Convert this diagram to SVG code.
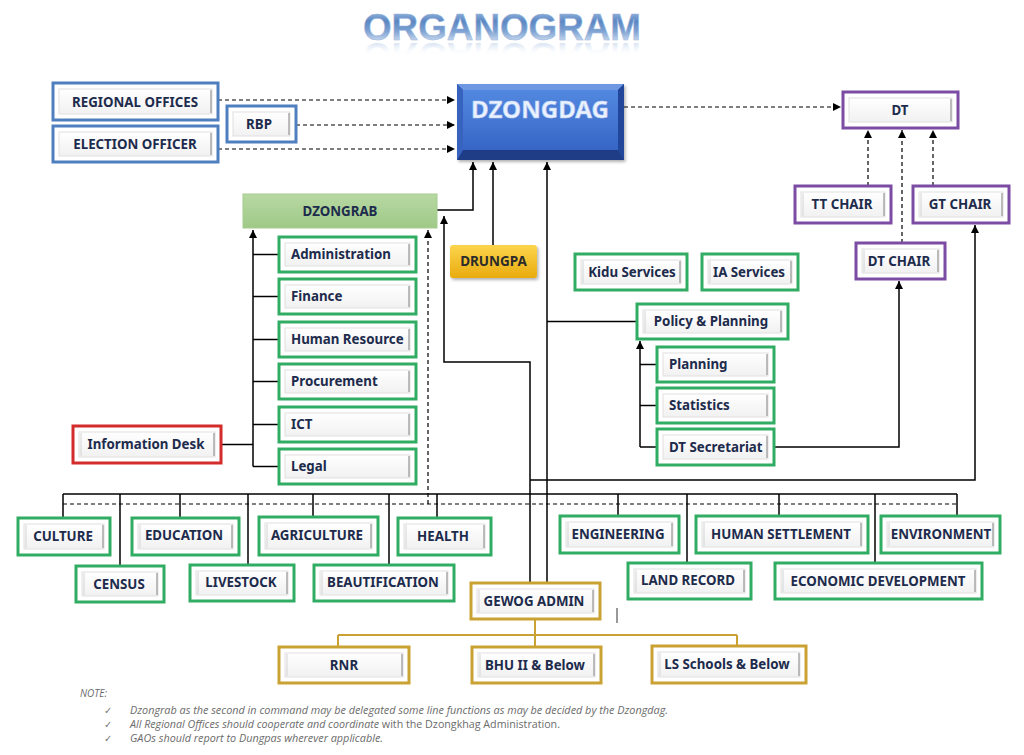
<svg xmlns="http://www.w3.org/2000/svg" width="1024" height="755" viewBox="0 0 1024 755">
<defs>
<linearGradient id="tg" x1="0" y1="13" x2="0" y2="41" gradientUnits="userSpaceOnUse"><stop offset="0" stop-color="#8cadd8"/><stop offset="0.3" stop-color="#5b87c3"/><stop offset="0.65" stop-color="#7ea2d2"/><stop offset="1" stop-color="#c8d9ee"/></linearGradient>
<linearGradient id="rg" x1="0" y1="40" x2="0" y2="27" gradientUnits="userSpaceOnUse"><stop offset="0" stop-color="#9fbbe0" stop-opacity="0.4"/><stop offset="1" stop-color="#ffffff" stop-opacity="0"/></linearGradient>
<linearGradient id="ig" x1="0" y1="0" x2="0" y2="1"><stop offset="0" stop-color="#ffffff"/><stop offset="1" stop-color="#f1f1f1"/></linearGradient>
<linearGradient id="dz" x1="0" y1="0" x2="0" y2="1"><stop offset="0" stop-color="#5288e0"/><stop offset="1" stop-color="#3766c6"/></linearGradient>
<linearGradient id="gr" x1="0" y1="0" x2="0" y2="1"><stop offset="0" stop-color="#b7d8a2"/><stop offset="1" stop-color="#9fc988"/></linearGradient>
<linearGradient id="yl" x1="0" y1="0" x2="0" y2="1"><stop offset="0" stop-color="#fcd54c"/><stop offset="1" stop-color="#e9ab0e"/></linearGradient>
<marker id="ah" markerUnits="userSpaceOnUse" markerWidth="9" markerHeight="8" refX="8" refY="4" orient="auto"><path d="M0,0 L8,4 L0,8 z" fill="#000"/></marker>
<filter id="sh" x="-10%" y="-10%" width="130%" height="140%"><feDropShadow dx="1.5" dy="2" stdDeviation="1.5" flood-color="#000" flood-opacity="0.3"/></filter>
</defs>
<style>
.ob{fill:#fff;stroke-width:3}
.g{stroke:#30ad62}.b{stroke:#4f7fbf}.p{stroke:#7c4ca4}.r{stroke:#d42b2b}.y{stroke:#c9a233}
.ib{fill:url(#ig);stroke:#e0e0e0;stroke-width:1}
.rl{stroke:#9c9c9c;stroke-width:1.3}
.ll{stroke:#d4d4d4;stroke-width:1}
.t{font-family:"Noto Sans","Open Sans",sans-serif;font-weight:700;font-size:13.3px;fill:#1d2b4c}
.c{text-anchor:middle}
.ln{fill:none;stroke:#000;stroke-width:1.5}
.dl{fill:none;stroke:#000;stroke-width:1.2;stroke-dasharray:4 3}
.gl{fill:none;stroke:#c9a233;stroke-width:2}
.ar{marker-end:url(#ah)}
.nt{font-family:"Open Sans","Noto Sans",sans-serif;font-style:italic;font-size:10px;fill:#6b6b6b}
.ck{font-family:"DejaVu Sans",sans-serif;font-size:10px;fill:#777}
</style>
<rect width="1024" height="755" fill="#fff"/>

<g id="title">
<text x="502" y="40" text-anchor="middle" font-family="Liberation Sans, Arial, sans-serif" font-weight="700" font-size="37" textLength="278" lengthAdjust="spacingAndGlyphs" fill="url(#tg)" stroke="#9ab6dc" stroke-width="0.5">ORGANOGRAM</text>
<g transform="translate(0,83) scale(1,-1)"><text x="502" y="40" text-anchor="middle" font-family="Liberation Sans, Arial, sans-serif" font-weight="700" font-size="37" textLength="278" lengthAdjust="spacingAndGlyphs" fill="url(#rg)">ORGANOGRAM</text></g>
</g>

<g id="connectors">
<line class="dl ar" x1="218" y1="100" x2="455" y2="100"/>
<line class="dl ar" x1="296" y1="125" x2="455" y2="125"/>
<line class="dl ar" x1="218" y1="149" x2="455" y2="149"/>
<line class="dl ar" x1="624" y1="107" x2="841" y2="107"/>
<line class="dl ar" x1="868" y1="186" x2="868" y2="130"/>
<line class="dl ar" x1="902" y1="243" x2="902" y2="130"/>
<line class="dl ar" x1="933" y1="186" x2="933" y2="130"/>
<polyline class="ln ar" points="437,210 473,210 473,162"/>
<line class="ln ar" x1="493" y1="245" x2="493" y2="162"/>
<line class="ln ar" x1="547" y1="583" x2="547" y2="162"/>
<line class="ln" x1="547" y1="321.5" x2="637" y2="321.5"/>
<polyline class="ln ar" points="530,583 530,362 444,362 444,216"/>
<polyline class="ln ar" points="530,480 975,480 975,225"/>
<polyline class="ln ar" points="774,447 899,447 899,281"/>
<line class="ln ar" x1="640" y1="447" x2="640" y2="341"/>
<line class="ln" x1="640" y1="364.5" x2="657" y2="364.5"/>
<line class="ln" x1="640" y1="405.5" x2="657" y2="405.5"/>
<line class="ln" x1="640" y1="447" x2="657" y2="447"/>
<line class="ln ar" x1="253" y1="466.5" x2="253" y2="230"/>
<line class="ln" x1="253" y1="254.5" x2="279" y2="254.5"/>
<line class="ln" x1="253" y1="296.5" x2="279" y2="296.5"/>
<line class="ln" x1="253" y1="339.5" x2="279" y2="339.5"/>
<line class="ln" x1="253" y1="381.5" x2="279" y2="381.5"/>
<line class="ln" x1="253" y1="424.5" x2="279" y2="424.5"/>
<line class="ln" x1="253" y1="466.5" x2="279" y2="466.5"/>
<line class="ln" x1="221" y1="444.5" x2="253" y2="444.5"/>
<line class="dl ar" x1="428" y1="504" x2="428" y2="230"/>
<line class="ln" x1="63" y1="494" x2="957" y2="494"/>
<line class="dl" x1="63" y1="504" x2="957" y2="504"/>
<line class="ln" x1="63" y1="494" x2="63" y2="518"/>
<line class="ln" x1="120" y1="494" x2="120" y2="566"/>
<line class="ln" x1="180" y1="494" x2="180" y2="518"/>
<line class="ln" x1="248" y1="494" x2="248" y2="565"/>
<line class="ln" x1="313" y1="494" x2="313" y2="517"/>
<line class="ln" x1="389" y1="494" x2="389" y2="565"/>
<line class="ln" x1="437" y1="494" x2="437" y2="518"/>
<line class="ln" x1="618" y1="494" x2="618" y2="516"/>
<line class="ln" x1="687" y1="494" x2="687" y2="563"/>
<line class="ln" x1="779" y1="494" x2="779" y2="516"/>
<line class="ln" x1="875" y1="494" x2="875" y2="563"/>
<line class="ln" x1="957" y1="494" x2="957" y2="516"/>
<line class="gl" x1="535" y1="619" x2="535" y2="647"/>
<line class="gl" x1="338" y1="635" x2="737" y2="635"/>
<line class="gl" x1="338" y1="635" x2="338" y2="647"/>
<line class="gl" x1="737" y1="635" x2="737" y2="646"/>
<line x1="617" y1="608" x2="617" y2="623" stroke="#333" stroke-width="1"/>
</g>

<g id="n-regional"><rect class="ob b" x="53" y="83" width="165" height="37"/><rect class="ib" x="59" y="89" width="153" height="25"/><line class="rl" x1="211" y1="90" x2="211" y2="113"/><text class="t c" x="135" y="106.5">REGIONAL OFFICES</text></g>
<g id="n-election"><rect class="ob b" x="53" y="126" width="165" height="36"/><rect class="ib" x="59" y="132" width="153" height="24"/><line class="rl" x1="211" y1="133" x2="211" y2="155"/><text class="t c" x="135" y="148.5">ELECTION OFFICER</text></g>
<g id="n-rbp"><rect class="ob b" x="227" y="106" width="69" height="36"/><rect class="ib" x="233" y="112" width="57" height="24"/><line class="rl" x1="289" y1="113" x2="289" y2="135"/><text class="t c" x="259" y="128.5">RBP</text></g>

<g id="n-dzongdag">
<rect x="457" y="84" width="167" height="76" fill="#2a53ab" filter="url(#sh)"/>
<polygon points="457,84 624,84 618,90 463,90" fill="#6f98e2"/>
<polygon points="457,160 624,160 618,150 463,150" fill="#1f3c86"/>
<polygon points="457,84 463,90 463,150 457,160" fill="#3762bd"/>
<polygon points="624,84 618,90 618,150 624,160" fill="#22479a"/>
<rect x="463" y="90" width="155" height="60" fill="url(#dz)"/>
<text x="540" y="118" text-anchor="middle" font-family="Noto Sans, Open Sans, sans-serif" font-weight="700" font-size="24" textLength="138" lengthAdjust="spacingAndGlyphs" fill="#eaf2ff" stroke="#b9cdf2" stroke-width="0.6">DZONGDAG</text>
</g>

<g id="n-dt"><rect class="ob p" x="843" y="92" width="115" height="36"/><rect class="ib" x="849" y="98" width="103" height="24"/><line class="rl" x1="951" y1="99" x2="951" y2="121"/><text class="t c" x="900" y="115">DT</text></g>
<g id="n-ttchair"><rect class="ob p" x="795" y="186" width="96" height="37"/><rect class="ib" x="801" y="192" width="84" height="25"/><line class="ll" x1="803" y1="193" x2="803" y2="216"/><line class="rl" x1="884" y1="193" x2="884" y2="216"/><text class="t c" x="842" y="209">TT CHAIR</text></g>
<g id="n-gtchair"><rect class="ob p" x="913" y="186" width="96" height="37"/><rect class="ib" x="919" y="192" width="84" height="25"/><line class="ll" x1="921" y1="193" x2="921" y2="216"/><line class="rl" x1="1002" y1="193" x2="1002" y2="216"/><text class="t c" x="960" y="209">GT CHAIR</text></g>
<g id="n-dtchair"><rect class="ob p" x="856" y="243" width="89" height="36"/><rect class="ib" x="862" y="249" width="77" height="24"/><line class="ll" x1="864" y1="250" x2="864" y2="272"/><line class="rl" x1="938" y1="250" x2="938" y2="272"/><text class="t c" x="899" y="265.5">DT CHAIR</text></g>

<g id="n-dzongrab"><rect x="243" y="194" width="194" height="34" fill="url(#gr)" stroke="#a6cc90" stroke-width="1"/><text class="t c" x="340" y="215.5">DZONGRAB</text></g>
<g id="n-drungpa"><rect x="450" y="245" width="87" height="33" rx="3" fill="url(#yl)" filter="url(#sh)"/><text x="493.5" y="266" text-anchor="middle" font-family="Noto Sans, Open Sans, sans-serif" font-weight="700" font-size="13.5" fill="#2b2b2b">DRUNGPA</text></g>

<g id="n-administration"><rect class="ob g" x="279" y="237" width="137" height="35"/><rect class="ib" x="285" y="243" width="125" height="23"/><line class="rl" x1="409" y1="244" x2="409" y2="265"/><text class="t" x="291" y="259">Administration</text></g>
<g id="n-finance"><rect class="ob g" x="279" y="279" width="137" height="35"/><rect class="ib" x="285" y="285" width="125" height="23"/><line class="rl" x1="409" y1="286" x2="409" y2="307"/><text class="t" x="291" y="301">Finance</text></g>
<g id="n-hr"><rect class="ob g" x="279" y="322" width="137" height="35"/><rect class="ib" x="285" y="328" width="125" height="23"/><line class="rl" x1="409" y1="329" x2="409" y2="350"/><text class="t" x="291" y="344">Human Resource</text></g>
<g id="n-procurement"><rect class="ob g" x="279" y="364" width="137" height="35"/><rect class="ib" x="285" y="370" width="125" height="23"/><line class="rl" x1="409" y1="371" x2="409" y2="392"/><text class="t" x="291" y="386">Procurement</text></g>
<g id="n-ict"><rect class="ob g" x="279" y="407" width="137" height="35"/><rect class="ib" x="285" y="413" width="125" height="23"/><line class="rl" x1="409" y1="414" x2="409" y2="435"/><text class="t" x="291" y="429">ICT</text></g>
<g id="n-legal"><rect class="ob g" x="279" y="449" width="137" height="35"/><rect class="ib" x="285" y="455" width="125" height="23"/><line class="rl" x1="409" y1="456" x2="409" y2="477"/><text class="t" x="291" y="471">Legal</text></g>
<g id="n-infodesk"><rect class="ob r" x="73" y="426" width="148" height="37"/><rect class="ib" x="79" y="432" width="136" height="25"/><line class="ll" x1="81" y1="433" x2="81" y2="456"/><line class="rl" x1="214" y1="433" x2="214" y2="456"/><text class="t c" x="146" y="449">Information Desk</text></g>

<g id="n-kidu"><rect class="ob g" x="575" y="254" width="112" height="36"/><rect class="ib" x="581" y="260" width="100" height="24"/><line class="ll" x1="583" y1="261" x2="583" y2="283"/><line class="rl" x1="680" y1="261" x2="680" y2="283"/><text class="t c" x="632" y="276.5">Kidu Services</text></g>
<g id="n-ia"><rect class="ob g" x="702" y="254" width="96" height="36"/><rect class="ib" x="708" y="260" width="84" height="24"/><line class="ll" x1="710" y1="261" x2="710" y2="283"/><line class="rl" x1="791" y1="261" x2="791" y2="283"/><text class="t c" x="749" y="276.5">IA Services</text></g>
<g id="n-policy"><rect class="ob g" x="637" y="304" width="151" height="35"/><rect class="ib" x="643" y="310" width="139" height="23"/><line class="ll" x1="645" y1="311" x2="645" y2="332"/><line class="rl" x1="781" y1="311" x2="781" y2="332"/><text class="t c" x="711" y="326">Policy &amp; Planning</text></g>
<g id="n-planning"><rect class="ob g" x="657" y="347" width="117" height="35"/><rect class="ib" x="663" y="353" width="105" height="23"/><line class="rl" x1="767" y1="354" x2="767" y2="375"/><text class="t" x="669" y="369">Planning</text></g>
<g id="n-statistics"><rect class="ob g" x="657" y="388" width="117" height="35"/><rect class="ib" x="663" y="394" width="105" height="23"/><line class="rl" x1="767" y1="395" x2="767" y2="416"/><text class="t" x="669" y="410">Statistics</text></g>
<g id="n-dtsec"><rect class="ob g" x="657" y="429" width="117" height="36"/><rect class="ib" x="663" y="435" width="105" height="24"/><line class="rl" x1="767" y1="436" x2="767" y2="458"/><text class="t" x="669" y="451.5">DT Secretariat</text></g>

<g id="n-culture"><rect class="ob g" x="18" y="518" width="92" height="37"/><rect class="ib" x="24" y="524" width="80" height="25"/><line class="ll" x1="26" y1="525" x2="26" y2="548"/><line class="rl" x1="103" y1="525" x2="103" y2="548"/><text class="t c" x="63" y="541">CULTURE</text></g>
<g id="n-education"><rect class="ob g" x="132" y="518" width="107" height="37"/><rect class="ib" x="138" y="524" width="95" height="25"/><line class="ll" x1="140" y1="525" x2="140" y2="548"/><line class="rl" x1="232" y1="525" x2="232" y2="548"/><text class="t c" x="184" y="540">EDUCATION</text></g>
<g id="n-agriculture"><rect class="ob g" x="259" y="517" width="119" height="38"/><rect class="ib" x="265" y="523" width="107" height="26"/><line class="ll" x1="267" y1="524" x2="267" y2="548"/><line class="rl" x1="371" y1="524" x2="371" y2="548"/><text class="t c" x="317" y="540">AGRICULTURE</text></g>
<g id="n-health"><rect class="ob g" x="398" y="518" width="93" height="37"/><rect class="ib" x="404" y="524" width="81" height="25"/><line class="ll" x1="406" y1="525" x2="406" y2="548"/><line class="rl" x1="484" y1="525" x2="484" y2="548"/><text class="t c" x="443" y="541">HEALTH</text></g>
<g id="n-census"><rect class="ob g" x="76" y="566" width="88" height="36"/><rect class="ib" x="82" y="572" width="76" height="24"/><line class="ll" x1="84" y1="573" x2="84" y2="595"/><line class="rl" x1="157" y1="573" x2="157" y2="595"/><text class="t c" x="119" y="588.5">CENSUS</text></g>
<g id="n-livestock"><rect class="ob g" x="190" y="565" width="104" height="36"/><rect class="ib" x="196" y="571" width="92" height="24"/><line class="ll" x1="198" y1="572" x2="198" y2="594"/><line class="rl" x1="287" y1="572" x2="287" y2="594"/><text class="t c" x="241" y="587">LIVESTOCK</text></g>
<g id="n-beautification"><rect class="ob g" x="314" y="565" width="140" height="36"/><rect class="ib" x="320" y="571" width="128" height="24"/><line class="ll" x1="322" y1="572" x2="322" y2="594"/><line class="rl" x1="447" y1="572" x2="447" y2="594"/><text class="t c" x="383" y="587">BEAUTIFICATION</text></g>
<g id="n-engineering"><rect class="ob g" x="560" y="516" width="119" height="37"/><rect class="ib" x="566" y="522" width="107" height="25"/><line class="ll" x1="568" y1="523" x2="568" y2="546"/><line class="rl" x1="672" y1="523" x2="672" y2="546"/><text class="t c" x="618" y="538.5">ENGINEERING</text></g>
<g id="n-humansettlement"><rect class="ob g" x="696" y="516" width="172" height="37"/><rect class="ib" x="702" y="522" width="160" height="25"/><line class="ll" x1="704" y1="523" x2="704" y2="546"/><line class="rl" x1="861" y1="523" x2="861" y2="546"/><text class="t c" x="781" y="538.5">HUMAN SETTLEMENT</text></g>
<g id="n-environment"><rect class="ob g" x="881" y="516" width="119" height="37"/><rect class="ib" x="887" y="522" width="107" height="25"/><line class="ll" x1="889" y1="523" x2="889" y2="546"/><line class="rl" x1="993" y1="523" x2="993" y2="546"/><text class="t c" x="941" y="538.5">ENVIRONMENT</text></g>
<g id="n-landrecord"><rect class="ob g" x="628" y="563" width="123" height="36"/><rect class="ib" x="634" y="569" width="111" height="24"/><line class="ll" x1="636" y1="570" x2="636" y2="592"/><line class="rl" x1="744" y1="570" x2="744" y2="592"/><text class="t c" x="688" y="585">LAND RECORD</text></g>
<g id="n-economic"><rect class="ob g" x="775" y="563" width="207" height="36"/><rect class="ib" x="781" y="569" width="195" height="24"/><line class="ll" x1="783" y1="570" x2="783" y2="592"/><line class="rl" x1="975" y1="570" x2="975" y2="592"/><text class="t c" x="878" y="585.5">ECONOMIC DEVELOPMENT</text></g>

<g id="n-gewog"><rect class="ob y" x="471" y="583" width="129" height="36"/><rect class="ib" x="477" y="589" width="117" height="24"/><line class="ll" x1="479" y1="590" x2="479" y2="612"/><line class="rl" x1="593" y1="590" x2="593" y2="612"/><text class="t c" x="534" y="605.5">GEWOG ADMIN</text></g>
<g id="n-rnr"><rect class="ob y" x="279" y="647" width="130" height="36"/><rect class="ib" x="285" y="653" width="118" height="24"/><line class="ll" x1="287" y1="654" x2="287" y2="676"/><line class="rl" x1="402" y1="654" x2="402" y2="676"/><text class="t c" x="344" y="669.5">RNR</text></g>
<g id="n-bhu"><rect class="ob y" x="472" y="647" width="129" height="36"/><rect class="ib" x="478" y="653" width="117" height="24"/><line class="ll" x1="480" y1="654" x2="480" y2="676"/><line class="rl" x1="594" y1="654" x2="594" y2="676"/><text class="t c" x="535" y="669.5">BHU II &amp; Below</text></g>
<g id="n-ls"><rect class="ob y" x="652" y="646" width="154" height="37"/><rect class="ib" x="658" y="652" width="142" height="25"/><line class="ll" x1="660" y1="653" x2="660" y2="676"/><line class="rl" x1="799" y1="653" x2="799" y2="676"/><text class="t c" x="727" y="668.5">LS Schools &amp; Below</text></g>

<g id="notes">
<text class="nt" x="80" y="697">NOTE:</text>
<text class="ck" x="104" y="713.5">✓</text>
<text class="ck" x="104" y="727.5">✓</text>
<text class="ck" x="104" y="742">✓</text>
<text class="nt" x="130" y="713.5" textLength="538" lengthAdjust="spacingAndGlyphs">Dzongrab as the second in command may be delegated some line functions as may be decided by the Dzongdag.</text>
<text class="nt" x="130" y="727.5" textLength="430" lengthAdjust="spacingAndGlyphs">All Regional Offices should cooperate and coordinate<tspan font-style="normal"> with the Dzongkhag Administration.</tspan></text>
<text class="nt" x="130" y="742" textLength="253" lengthAdjust="spacingAndGlyphs">GAOs should report to Dungpas wherever applicable.</text>
</g>
</svg>
